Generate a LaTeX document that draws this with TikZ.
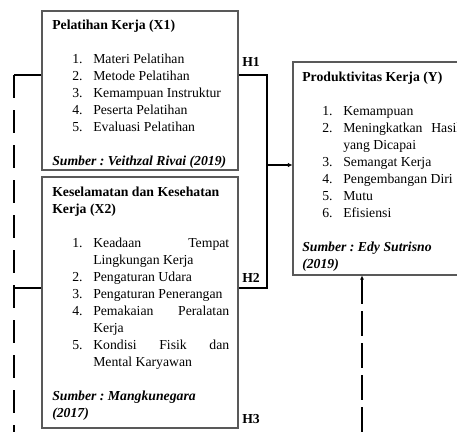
\documentclass[tikz,border=0pt]{standalone}
\usepackage{fontspec}
\setmainfont{Liberation Serif}
\usetikzlibrary{arrows.meta}
\frenchspacing
\newcommand\itm[2]{\par\noindent\llap{\hbox to 15.75pt{#1\hfil}}#2\par}
\newcommand\boxtext[2]{\vtop{\hsize=#1\relax\frenchspacing\parindent=0pt\parskip=0pt\baselineskip=12.75pt\lineskiplimit=-20pt\lineskip=0pt\tolerance=10000\hbadness=10000\hyphenpenalty=10000\exhyphenpenalty=10000\parfillskip=0pt plus 1fil\leftskip=0pt\rightskip=0pt #2}}
\newcommand\blankline{\vskip12.75pt}
\tikzset{
  frame/.style={draw=black!65, line width=0.8pt, inner sep=0pt, fill=white},
  body/.style={anchor=base west, inner sep=0pt},
  conn/.style={line width=1.5pt, black},
  dashL/.style={dash pattern=on 17.25pt off 9pt},
  dashR/.style={dash pattern=on 18.75pt off 5.25pt},
  hlab/.style={anchor=base west, inner sep=0pt, font=\fontsize{10.3}{12.75}\selectfont\bfseries},
}
\begin{document}
\begin{tikzpicture}[x=0.75pt, y=-0.75pt, font=\fontsize{10.3}{12.75}\selectfont]
\useasboundingbox (0,0) rectangle (457,432);
\clip (0,0) rectangle (457,432);
% boxes
\node[frame, minimum width=147pt, minimum height=119.25pt] (x1) at (140,90.5) {};
\node[frame, minimum width=147pt, minimum height=188.25pt] (x2) at (140,302.5) {};
\node[frame, minimum width=136.5pt, minimum height=159.75pt] (y) at (384,168.5) {};
% texts
\node[body] (x1t) at (52,29.5) {\boxtext{132.75pt}{%
  \noindent\textbf{Pelatihan Kerja (X1)}\par
  \blankline
  \leftskip=30.75pt
  \itm{1.}{Materi Pelatihan}
  \itm{2.}{Metode Pelatihan}
  \itm{3.}{Kemampuan Instruktur}
  \itm{4.}{Peserta Pelatihan}
  \itm{5.}{Evaluasi Pelatihan}
  \leftskip=0pt
  \blankline
  \noindent\hbox{\textbf{\textit{Sumber : Veithzal Rivai (2019)}}}\par}};
\node[body] (x2t) at (52,196) {\boxtext{132.75pt}{%
  \noindent\hbox{\textbf{Keselamatan dan Kesehatan}}\par
  \noindent\hbox{\textbf{Kerja (X2)}}\par
  \blankline
  \leftskip=30.75pt
  \itm{1.}{Keadaan Tempat Lingkungan Kerja}
  \itm{2.}{Pengaturan Udara}
  \itm{3.}{Pengaturan Penerangan}
  \itm{4.}{Pemakaian Peralatan Kerja}
  \itm{5.}{Kondisi Fisik dan Mental Karyawan}
  \leftskip=0pt
  \blankline
  \noindent\hbox{\textbf{\textit{Sumber : Mangkunegara}}}\par
  \noindent\hbox{\textbf{\textit{(2017)}}}\par}};
\node[body] (yt) at (302,81.5) {\boxtext{118.5pt}{%
  \noindent\hbox{\textbf{Produktivitas Kerja (Y)}}\par
  \blankline
  \leftskip=30.75pt
  \itm{1.}{Kemampuan}
  \itm{2.}{Meningkatkan Hasil yang Dicapai}
  \itm{3.}{Semangat Kerja}
  \itm{4.}{Pengembangan Diri}
  \itm{5.}{Mutu}
  \itm{6.}{Efisiensi}
  \leftskip=0pt
  \blankline
  \noindent\hbox{\textbf{\textit{Sumber : Edy Sutrisno}}}\par
  \noindent\hbox{\textbf{\textit{(2019)}}}\par}};
% hypothesis labels
\node[hlab] (h1) at (242,66) {H1};
\node[hlab] (h2) at (242,282) {H2};
\node[hlab] (h3) at (242,423) {H3};
% connector coordinates
\coordinate (j1) at (267,75);
\coordinate (j2) at (267,288);
\coordinate (jm) at (267,165);
\coordinate (l1) at (14,75);
\coordinate (l2) at (14,288);
\coordinate (lb) at (14,445);
\coordinate (yb) at (362,445);
% solid bracket H1/H2
\draw[conn, line join=miter] (x1.east |- j1) -- (j1) -- (j2) -- (x2.east |- j2);
\draw[conn, -{Latex[length=3.5pt,width=3.5pt]}] (jm) -- (y.west |- jm);
% left dashed path (H3)
\draw[conn] (x1.west |- l1) -- (l1);
\draw[conn, dashL] (l1) -- (lb);
\draw[conn] (x2.west |- l2) -- (l2);
% right dashed arrow
\draw[conn, dashR, {Latex[length=3pt,width=3pt]}-] (y.south -| yb) -- (yb);
\end{tikzpicture}
\end{document}
